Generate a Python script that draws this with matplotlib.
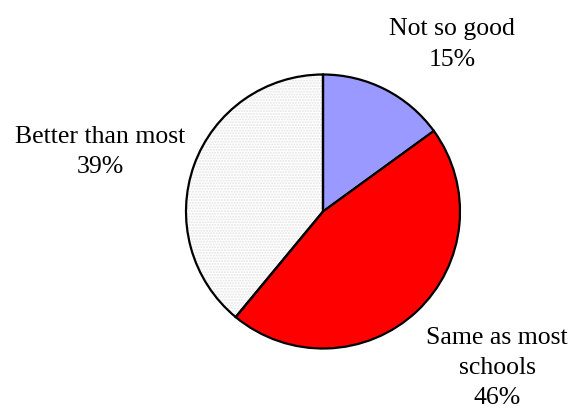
import matplotlib
matplotlib.use("Agg")
import matplotlib.pyplot as plt
from matplotlib.patches import Wedge

labels = ["Not so good", "Same as most\nschools", "Better than most"]
values = [15, 46, 39]
colors = ["#9999FF", "#FF0000", "#FBFBFB"]

W, H = 571, 411
fig = plt.figure(figsize=(W / 100, H / 100), dpi=100)
ax = fig.add_axes([0, 0, 1, 1])
cx, cy, r = 323, H - 211.5, 137
wedges, _ = ax.pie(values, colors=colors, startangle=90, counterclock=False,
                   center=(cx, cy), radius=r, frame=True,
                   wedgeprops=dict(edgecolor="black", linewidth=1.6))
w = wedges[2]
hw = Wedge(w.center, w.r, w.theta1, w.theta2, facecolor="none",
           edgecolor="#E4E4E4", hatch="......", linewidth=0, zorder=w.get_zorder() - 0.01)
ax.add_patch(hw)
w.set_facecolor("none")
ax.set_xlim(0, W)
ax.set_ylim(0, H)
ax.set_aspect("equal")
ax.axis("off")

font = dict(family="Liberation Serif", fontsize=18.5, ha="center", va="center",
            linespacing=1.5, color="black")
pos = [(452, H - 44.5), (497, H - 368), (100, H - 152)]
for lab, v, (x, y) in zip(labels, values, pos):
    ax.text(x, y, f"{lab}\n{v}%", **font)

fig.savefig("out.png", dpi=100, facecolor="white")
